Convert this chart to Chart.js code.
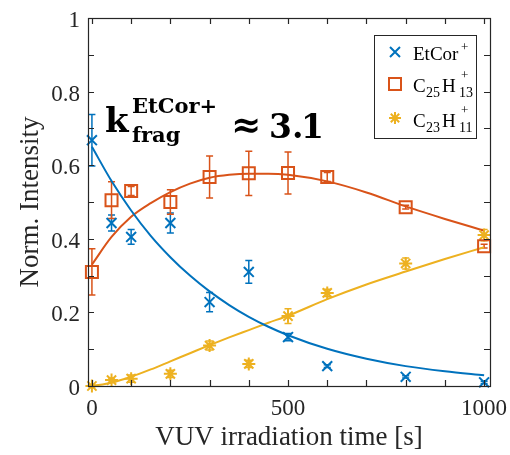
<!DOCTYPE html>
<html>
<head>
<meta charset="utf-8">
<script src="https://cdn.jsdelivr.net/npm/chart.js@4.4.0/dist/chart.umd.min.js"></script>
<style>
  body { margin: 0; background: #fff; }
  #wrap { position: relative; width: 510px; height: 455px; }
  #legendBox { position: absolute; left: 374px; top: 35px; width: 101px; height: 102px; border: 1px solid #262626; }
</style>
</head>
<body>
<div id="wrap">
  <canvas id="myChart" width="510" height="455"></canvas>
</div>
<script>
// measured points
var times = [0, 50, 100, 200, 300, 400, 500, 600, 800, 1000];
var etCor = [0.668, 0.443, 0.405, 0.443, 0.228, 0.31, 0.133, 0.054, 0.025, 0.01];
var etCorErr = [0.07, 0.022, 0.02, 0.027, 0.026, 0.031, 0.01, 0.004, 0.003, 0.003];
var c25h13 = [0.31, 0.505, 0.53, 0.5, 0.568, 0.578, 0.579, 0.568, 0.486, 0.38];
var c25h13Err = [0.063, 0.05, 0.012, 0.033, 0.057, 0.06, 0.057, 0.012, 0.005, 0.005];
var c23h11 = [0.0, 0.016, 0.02, 0.033, 0.11, 0.06, 0.19, 0.253, 0.333, 0.41];
var c23h11Err = [0.003, 0.006, 0.01, 0.01, 0.012, 0.01, 0.02, 0.01, 0.015, 0.015];

// fit curves
var fitTimes = [0, 50, 100, 150, 200, 250, 300, 350, 400, 450, 500, 600, 700, 800, 900, 1000];
var fitEtCor = [0.65, 0.557, 0.477, 0.408, 0.35, 0.3, 0.257, 0.22, 0.188, 0.161, 0.138, 0.101, 0.074, 0.054, 0.04, 0.029];
var fitC25h13 = [0.33, 0.405, 0.46, 0.497, 0.527, 0.55, 0.566, 0.574, 0.577, 0.577, 0.574, 0.556, 0.526, 0.488, 0.454, 0.422];
var fitC23h11 = [0.0, 0.009, 0.025, 0.045, 0.067, 0.089, 0.111, 0.132, 0.152, 0.172, 0.191, 0.236, 0.276, 0.311, 0.345, 0.377];

// axes
var xTicks = [0, 100, 200, 300, 400, 500, 600, 700, 800, 900, 1000];
var xLabels = [0, 500, 1000];
var yTicks = [0, 0.1, 0.2, 0.3, 0.4, 0.5, 0.6, 0.7, 0.8, 0.9, 1];
var yLabels = [0, 0.2, 0.4, 0.6, 0.8, 1];

var BLUE = "#0072BD", ORANGE = "#D95319", YELLOW = "#EDB120", AXIS = "#262626";

function pts(xs, ys) {
  return xs.map(function (t, i) { return { x: t, y: ys[i] }; });
}

var errSeries = [
  { vals: etCor, err: etCorErr, color: BLUE },
  { vals: c25h13, err: c25h13Err, color: ORANGE },
  { vals: c23h11, err: c23h11Err, color: YELLOW },
];

function drawMarker(ctx, style, x, y, color) {
  ctx.save();
  ctx.strokeStyle = color;
  ctx.lineWidth = 2;
  ctx.beginPath();
  if (style === "x") {
    ctx.moveTo(x - 5, y - 5); ctx.lineTo(x + 5, y + 5);
    ctx.moveTo(x - 5, y + 5); ctx.lineTo(x + 5, y - 5);
  } else if (style === "sq") {
    ctx.rect(x - 6, y - 6, 12, 12);
  } else {
    ctx.moveTo(x - 6, y); ctx.lineTo(x + 6, y);
    ctx.moveTo(x, y - 6); ctx.lineTo(x, y + 6);
    ctx.moveTo(x - 4.2, y - 4.2); ctx.lineTo(x + 4.2, y + 4.2);
    ctx.moveTo(x - 4.2, y + 4.2); ctx.lineTo(x + 4.2, y - 4.2);
  }
  ctx.stroke();
  ctx.restore();
}

// error bars, box with inward ticks
var axisBox = {
  id: "axisBox",
  beforeDatasetsDraw: function (chart) {
    var ctx = chart.ctx, xs = chart.scales.x, ys = chart.scales.y;
    ctx.save();
    ctx.lineWidth = 1.5;
    errSeries.forEach(function (s) {
      ctx.strokeStyle = s.color;
      times.forEach(function (t, i) {
        var px = xs.getPixelForValue(t);
        var lo = ys.getPixelForValue(s.vals[i] - s.err[i]);
        var hi = ys.getPixelForValue(s.vals[i] + s.err[i]);
        ctx.beginPath();
        ctx.moveTo(px, lo); ctx.lineTo(px, hi);
        ctx.moveTo(px - 3.5, lo); ctx.lineTo(px + 3.5, lo);
        ctx.moveTo(px - 3.5, hi); ctx.lineTo(px + 3.5, hi);
        ctx.stroke();
      });
    });
    ctx.restore();
  },
  afterDraw: function (chart) {
    var ctx = chart.ctx, a = chart.chartArea, xs = chart.scales.x, ys = chart.scales.y;
    ctx.save();
    ctx.strokeStyle = AXIS;
    ctx.lineWidth = 1.2;
    ctx.strokeRect(a.left + 0.5, a.top + 0.5, a.right - a.left, a.bottom - a.top);
    ctx.beginPath();
    xTicks.forEach(function (v) {
      var px = Math.round(xs.getPixelForValue(v)) + 0.5;
      ctx.moveTo(px, a.bottom); ctx.lineTo(px, a.bottom - 6);
      ctx.moveTo(px, a.top); ctx.lineTo(px, a.top + 6);
    });
    yTicks.forEach(function (v) {
      var py = Math.round(ys.getPixelForValue(v)) + 0.5;
      ctx.moveTo(a.left, py); ctx.lineTo(a.left + 6, py);
      ctx.moveTo(a.right, py); ctx.lineTo(a.right - 6, py);
    });
    ctx.stroke();
    ctx.restore();
    // legend markers
    drawMarker(ctx, "x", 395, 52, BLUE);
    drawMarker(ctx, "sq", 395, 84, ORANGE);
    drawMarker(ctx, "star", 395, 118, YELLOW);
  },
};

var ctx = document.getElementById("myChart");
window.chart = new Chart(ctx, {
  type: "scatter",
  data: {
    datasets: [
      { label: "EtCor+", data: pts(times, etCor), pointStyle: "crossRot", pointRadius: 7, borderColor: BLUE, borderWidth: 2, backgroundColor: "transparent", showLine: false },
      { label: "C25H13+", data: pts(times, c25h13), pointStyle: "rect", pointRadius: 8.5, borderColor: ORANGE, borderWidth: 2, backgroundColor: "transparent", showLine: false },
      { label: "C23H11+", data: pts(times, c23h11), pointStyle: "star", pointRadius: 6.5, borderColor: YELLOW, borderWidth: 2, backgroundColor: "transparent", showLine: false },
      { label: "fit1", data: pts(fitTimes, fitEtCor), showLine: true, pointRadius: 0, borderColor: BLUE, borderWidth: 2, cubicInterpolationMode: "monotone" },
      { label: "fit2", data: pts(fitTimes, fitC25h13), showLine: true, pointRadius: 0, borderColor: ORANGE, borderWidth: 2, cubicInterpolationMode: "monotone" },
      { label: "fit3", data: pts(fitTimes, fitC23h11), showLine: true, pointRadius: 0, borderColor: YELLOW, borderWidth: 2, cubicInterpolationMode: "monotone" },
    ],
  },
  options: {
    responsive: false,
    animation: false,
    clip: false,
    layout: { padding: { top: 18, right: 20, left: 0, bottom: 0 } },
    plugins: { legend: { display: false }, tooltip: { enabled: false } },
    scales: {
      x: {
        type: "linear",
        min: -10,
        max: 1015,
        afterBuildTicks: function (s) { s.ticks = xTicks.map(function (v) { return { value: v }; }); },
        afterFit: function (s) { s.height = 69; s.paddingLeft = 0; s.paddingRight = 0; },
        grid: { display: false, drawTicks: false },
        border: { display: false },
        ticks: {
          autoSkip: false, maxRotation: 0, padding: 9, color: AXIS,
          font: { family: "'Liberation Serif'", size: 23 },
          callback: function (v) { return xLabels.indexOf(v) >= 0 ? String(v) : ""; },
        },
        title: { display: true, text: "VUV irradiation time [s]", color: AXIS, font: { family: "'Liberation Serif'", size: 27 }, padding: { top: 0, bottom: 1 } },
      },
      y: {
        min: 0,
        max: 1,
        afterBuildTicks: function (s) { s.ticks = yTicks.map(function (v) { return { value: v }; }); },
        afterFit: function (s) { s.width = 88; s.paddingTop = 0; s.paddingBottom = 0; },
        grid: { display: false, drawTicks: false },
        border: { display: false },
        ticks: {
          autoSkip: false, padding: 8, color: AXIS,
          font: { family: "'Liberation Serif'", size: 23, lineHeight: 0.25 },
          // blank first line nudges the label a few px down, like the original
          callback: function (v) { return yLabels.indexOf(v) >= 0 ? ["", String(v)] : ""; },
        },
        title: { display: true, text: "Norm. Intensity", color: AXIS, font: { family: "'Liberation Serif'", size: 27 }, padding: { top: 15, bottom: 0 } },
      },
    },
  },
  plugins: [axisBox],
});

// text overlays: legend labels and the rate annotation
var wrap = document.getElementById("wrap");
function putText(txt, x, base, size, family, weight, asc) {
  var s = document.createElement("span");
  s.textContent = txt;
  s.style.cssText = "position:absolute;white-space:nowrap;line-height:1;color:#000;left:" + x + "px;top:" +
    (base - asc * size) + "px;font-family:" + family + ";font-size:" + size + "px;font-weight:" + weight + ";";
  wrap.appendChild(s);
}
var LS = "'Liberation Serif'", DS = "'DejaVu Serif'";
var box = document.createElement("div");
box.id = "legendBox";
wrap.appendChild(box);

putText("EtCor", 413, 60, 19, LS, "normal", 0.8375);
putText("+", 461, 51, 13, LS, "normal", 0.8375);
putText("C", 413, 92, 19, LS, "normal", 0.8375);
putText("25", 426, 98, 14, LS, "normal", 0.8375);
putText("H", 442, 92, 19, LS, "normal", 0.8375);
putText("13", 459, 98, 14, LS, "normal", 0.8375);
putText("+", 461, 79, 13, LS, "normal", 0.8375);
putText("C", 413, 127, 19, LS, "normal", 0.8375);
putText("23", 426, 133, 14, LS, "normal", 0.8375);
putText("H", 442, 127, 19, LS, "normal", 0.8375);
putText("11", 459, 133, 14, LS, "normal", 0.8375);
putText("+", 461, 114, 13, LS, "normal", 0.8375);

putText("k", 105, 132, 34, DS, "bold", 0.846);
putText("EtCor+", 132, 113, 21, DS, "bold", 0.846);
putText("frag", 132, 142, 21, DS, "bold", 0.846);
putText("\u2248", 231, 136, 36, DS, "bold", 0.846);
putText("3.", 269, 138, 33, DS, "bold", 0.846);
putText("1", 301, 138, 33, DS, "bold", 0.846);
</script>
</body>
</html>
